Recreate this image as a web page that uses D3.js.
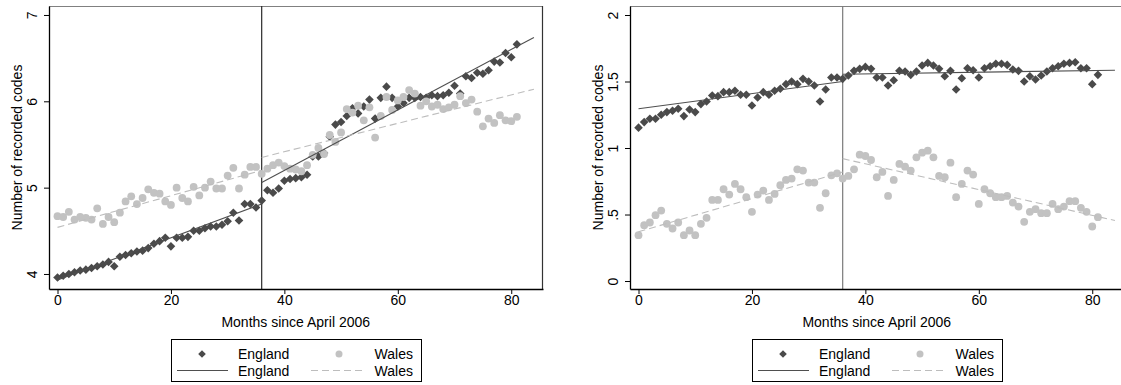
<!DOCTYPE html>
<html><head><meta charset="utf-8">
<script src="https://cdn.jsdelivr.net/npm/d3@7"></script>
<style>body{margin:0;background:#fff} svg{display:block;font-family:"Liberation Sans",Arial,sans-serif}</style>
</head><body><svg id="c" width="1121" height="385"></svg>
<script>
const months = [0,1,2,3,4,5,6,7,8,9,10,11,12,13,14,15,16,17,18,19,20,21,22,23,24,25,26,27,28,29,30,31,32,33,34,35,36,37,38,39,40,41,42,43,44,45,46,47,48,49,50,51,52,53,54,55,56,57,58,59,60,61,62,63,64,65,66,67,68,69,70,71,72,73,74,75,76,77,78,79,80,81];

const leftEngland = [3.96,3.98,4.00,4.02,4.04,4.05,4.07,4.09,4.11,4.14,4.09,4.20,4.22,4.24,4.26,4.27,4.30,4.35,4.38,4.42,4.32,4.42,4.42,4.43,4.50,4.50,4.53,4.55,4.55,4.57,4.61,4.71,4.62,4.81,4.81,4.77,4.85,4.97,4.94,4.99,5.08,5.10,5.11,5.12,5.15,5.36,5.36,5.40,5.59,5.73,5.76,5.83,5.92,5.86,5.94,6.02,5.80,6.04,6.17,6.04,5.94,5.98,6.04,6.04,6.05,6.04,6.07,6.06,6.07,6.10,6.18,6.09,6.29,6.27,6.33,6.32,6.36,6.46,6.45,6.56,6.51,6.66];
const leftWales = [4.67,4.66,4.72,4.63,4.66,4.65,4.63,4.76,4.58,4.66,4.60,4.71,4.84,4.90,4.81,4.88,4.98,4.94,4.93,4.84,4.80,5.00,4.88,4.84,5.01,4.91,5.00,5.07,4.99,4.99,5.14,5.23,4.99,5.15,5.24,5.24,5.16,5.22,5.26,5.29,5.25,5.22,5.21,5.19,5.26,5.38,5.46,5.39,5.61,5.53,5.64,5.91,5.87,5.95,5.78,5.93,5.58,5.83,6.05,5.90,6.01,6.05,6.13,6.09,5.95,6.00,5.94,5.96,5.91,5.93,5.96,6.06,5.98,6.02,5.88,5.71,5.80,5.75,5.84,5.78,5.77,5.82];
const rightEngland = [1.153,1.195,1.22,1.22,1.25,1.27,1.28,1.295,1.24,1.29,1.27,1.33,1.35,1.395,1.39,1.42,1.42,1.43,1.40,1.40,1.32,1.38,1.42,1.40,1.43,1.445,1.48,1.50,1.48,1.52,1.50,1.47,1.35,1.44,1.53,1.53,1.52,1.545,1.58,1.595,1.61,1.595,1.53,1.53,1.47,1.51,1.58,1.575,1.55,1.575,1.62,1.64,1.62,1.595,1.54,1.58,1.44,1.525,1.60,1.585,1.53,1.60,1.615,1.633,1.633,1.625,1.59,1.58,1.50,1.54,1.515,1.545,1.575,1.60,1.615,1.633,1.64,1.645,1.60,1.60,1.48,1.55];
const rightWales = [0.345,0.42,0.44,0.495,0.53,0.43,0.395,0.44,0.345,0.38,0.345,0.43,0.475,0.61,0.61,0.69,0.65,0.73,0.69,0.63,0.52,0.65,0.68,0.61,0.655,0.72,0.76,0.77,0.84,0.83,0.74,0.74,0.55,0.66,0.795,0.81,0.77,0.79,0.84,0.95,0.94,0.91,0.78,0.82,0.64,0.76,0.88,0.86,0.83,0.93,0.965,0.98,0.93,0.79,0.78,0.89,0.63,0.73,0.83,0.80,0.58,0.69,0.66,0.63,0.63,0.64,0.59,0.56,0.445,0.52,0.54,0.51,0.51,0.58,0.54,0.56,0.60,0.60,0.55,0.52,0.41,0.48];

const fitPreMonths = [0, 36];
const fitPostMonths = [36, 84];
const leftEnglandFitPre = [3.93, 4.81];
const leftEnglandFitPost = [5.06, 6.74];
const leftWalesFitPre = [4.54, 5.20];
const leftWalesFitPost = [5.35, 6.14];
const rightEnglandFitPre = [1.295, 1.50];
const rightEnglandFitPost = [1.555, 1.585];
const rightWalesFitPre = [0.37, 0.82];
const rightWalesFitPost = [0.92, 0.455];

const interventionMonth = 36;
const xTicks = [0, 20, 40, 60, 80];
const xTickLabels = ["0", "20", "40", "60", "80"];
const leftYTicks = [4, 5, 6, 7];
const leftYTickLabels = ["4", "5", "6", "7"];
const rightYTicks = [0, 0.5, 1, 1.5, 2];
const rightYTickLabels = ["0", ".5", "1", "1.5", "2"];
const xTitle = "Months since April 2006";
const yTitle = "Number of recorded codes";
const seriesNames = ["England", "Wales"];

const C = {eng: "#4a4a4a", wal: "#c2c2c2", engLine: "#4f4f4f", walLine: "#bdbdbd"};
const svg = d3.select("#c");
const FS = 14;

const panels = [
  {x0: 49, x1: 543, yDom: [3.826, 7.104], xDom: [-1.5, 85.6], eng: leftEngland, wal: leftWales,
   engPre: leftEnglandFitPre, engPost: leftEnglandFitPost, walPre: leftWalesFitPre, walPost: leftWalesFitPost,
   yTicks: leftYTicks, yLabels: leftYTickLabels, vColor: "#2a2a2a"},
  {x0: 630, x1: 1124, yDom: [-0.060, 2.0677], xDom: [-1.5, 85.6], eng: rightEngland, wal: rightWales,
   engPre: rightEnglandFitPre, engPost: rightEnglandFitPost, walPre: rightWalesFitPre, walPost: rightWalesFitPost,
   yTicks: rightYTicks, yLabels: rightYTickLabels, vColor: "#7a7a7a"}
];
const yTop = 6, yBot = 289;

function diamondPath(r){ return `M0,${-r}L${r},0L0,${r}L${-r},0Z`; }

panels.forEach(p => {
  const x = d3.scaleLinear().domain(p.xDom).range([p.x0, p.x1]);
  const y = d3.scaleLinear().domain(p.yDom).range([yBot, yTop]);
  const g = svg.append("g");

  g.append("line").attr("x1", p.x0).attr("x2", p.x1).attr("y1", yTop + 0.5).attr("y2", yTop + 0.5)
    .attr("stroke", "#808080").attr("stroke-width", 1.2);
  g.append("line").attr("x1", p.x1 - 0.5).attr("x2", p.x1 - 0.5).attr("y1", yTop).attr("y2", yBot)
    .attr("stroke", "#333").attr("stroke-width", 1.2);

  g.append("line").attr("x1", x(interventionMonth)).attr("x2", x(interventionMonth))
    .attr("y1", yTop).attr("y2", yBot).attr("stroke", p.vColor).attr("stroke-width", 1.2);

  g.append("g").selectAll("path").data(months).join("path")
    .attr("d", diamondPath(4.3))
    .attr("transform", (m, i) => `translate(${x(m)},${y(p.eng[i])})`)
    .attr("fill", C.eng);
  g.append("g").selectAll("circle").data(months).join("circle")
    .attr("cx", m => x(m)).attr("cy", (m, i) => y(p.wal[i])).attr("r", 3.9)
    .attr("fill", C.wal);

  const line = d3.line().x(d => x(d[0])).y(d => y(d[1]));
  const seg = (ms, vs) => ms.map((m, i) => [m, vs[i]]);
  [[p.engPre, fitPreMonths], [p.engPost, fitPostMonths]].forEach(([v, ms]) =>
    g.append("path").attr("d", line(seg(ms, v))).attr("stroke", C.engLine).attr("stroke-width", 1.1).attr("fill", "none"));
  [[p.walPre, fitPreMonths], [p.walPost, fitPostMonths]].forEach(([v, ms]) =>
    g.append("path").attr("d", line(seg(ms, v))).attr("stroke", C.walLine).attr("stroke-width", 1.1)
      .attr("stroke-dasharray", "7,4").attr("fill", "none"));

  const ax = g.append("g").attr("transform", `translate(0,${yBot})`)
    .call(d3.axisBottom(x).tickValues(xTicks).tickFormat((d, i) => xTickLabels[i]).tickSize(5).tickSizeOuter(0));
  ax.select(".domain").attr("stroke", "#000").attr("stroke-width", 1.3);
  ax.selectAll(".tick line").attr("stroke", "#000");
  ax.selectAll(".tick text").attr("font-size", FS).attr("font-family", "Liberation Sans, Arial, sans-serif").attr("fill", "#000").attr("dy", "0.62em").attr("y", 7);

  const ay = g.append("g").attr("transform", `translate(${p.x0},0)`)
    .call(d3.axisLeft(y).tickValues(p.yTicks).tickFormat((d, i) => p.yLabels[i]).tickSize(5).tickSizeOuter(0));
  ay.select(".domain").attr("stroke", "#000").attr("stroke-width", 1.3);
  ay.selectAll(".tick line").attr("stroke", "#000");
  ay.selectAll(".tick text").attr("font-size", FS).attr("font-family", "Liberation Sans, Arial, sans-serif").attr("fill", "#000")
    .attr("x", null).attr("text-anchor", "middle")
    .attr("transform", "translate(-17,0) rotate(-90)").attr("dy", "0.35em");

  const cx = (p.x0 + p.x1) / 2;
  g.append("text").attr("x", x(42)).attr("y", 327).attr("text-anchor", "middle")
    .attr("font-size", FS).text(xTitle);
  g.append("text").attr("transform", `translate(${p.x0 - 32},${(yTop + yBot) / 2}) rotate(-90)`)
    .attr("text-anchor", "middle").attr("dy", "0.35em").attr("font-size", FS).text(yTitle);

  const lx = cx - 125, ly = 339;
  const lg = g.append("g").attr("transform", `translate(${lx},${ly})`);
  lg.append("rect").attr("x", 0.5).attr("y", 0.5).attr("width", 250).attr("height", 42)
    .attr("fill", "#fff").attr("stroke", "#000").attr("stroke-width", 1);
  lg.append("path").attr("d", diamondPath(3.8)).attr("transform", "translate(31,15)").attr("fill", C.eng);
  lg.append("circle").attr("cx", 168).attr("cy", 15).attr("r", 3.5).attr("fill", C.wal);
  lg.append("line").attr("x1", 6).attr("x2", 57).attr("y1", 31.5).attr("y2", 31.5).attr("stroke", C.engLine).attr("stroke-width", 1.1);
  lg.append("line").attr("x1", 140).attr("x2", 195).attr("y1", 31.5).attr("y2", 31.5).attr("stroke", C.walLine)
    .attr("stroke-width", 1.1).attr("stroke-dasharray", "7,4");
  [15, 31.5].forEach(yy => {
    lg.append("text").attr("x", 67).attr("y", yy).attr("dy", "0.36em").attr("font-size", FS).text(seriesNames[0]);
    lg.append("text").attr("x", 242).attr("y", yy).attr("dy", "0.36em").attr("text-anchor", "end").attr("font-size", FS).text(seriesNames[1]);
  });
});
</script></body></html>
